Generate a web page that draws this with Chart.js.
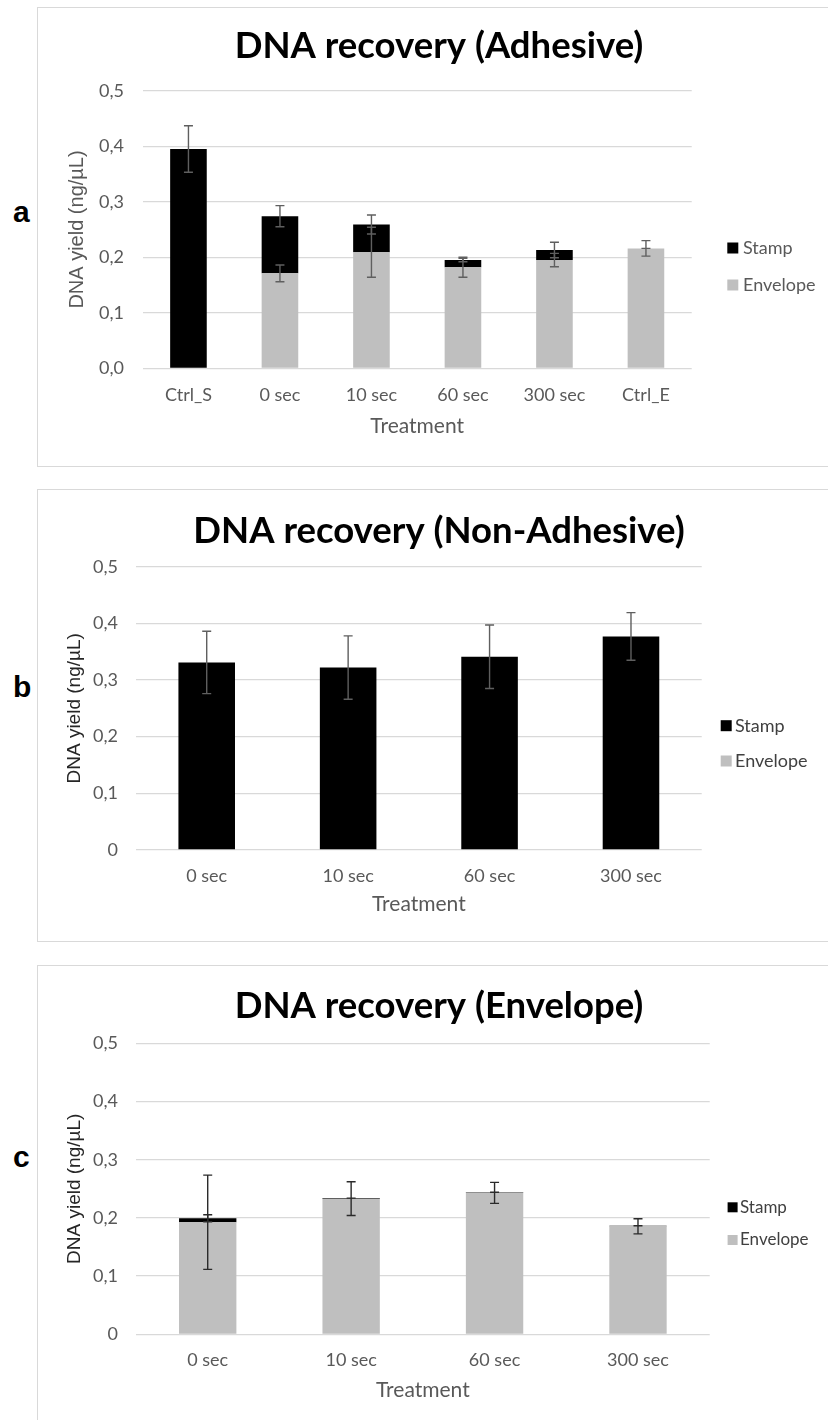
<!DOCTYPE html>
<html>
<head>
<meta charset="utf-8">
<title>DNA recovery</title>
<script src="https://cdn.jsdelivr.net/npm/chart.js@4.4.1/dist/chart.umd.min.js"></script>
<style>
  html, body { margin: 0; padding: 0; background: #ffffff; }
  body { width: 828px; height: 1420px; position: relative; overflow: hidden; }
  .frame { position: absolute; left: 36.5px; width: 900px; border: 1.5px solid #d9d9d9; box-sizing: border-box; }
  canvas { position: absolute; left: 38px; }
  .tag { position: absolute; left: 13px; font: bold 30px "Liberation Sans", Arial, sans-serif; line-height: 30px; color: #000; }
</style>
</head>
<body>
<div class="frame" style="top:7.3px;height:459.4px"></div>
<div class="frame" style="top:489.3px;height:452.4px"></div>
<div class="frame" style="top:965px;height:600px"></div>

<div class="tag" style="top:197px">a</div>
<div class="tag" style="top:672px">b</div>
<div class="tag" style="top:1142px">c</div>

<canvas id="chartA" width="802" height="458" style="top:8px"></canvas>
<canvas id="chartB" width="802" height="451" style="top:490px"></canvas>
<canvas id="chartC" width="802" height="454" style="top:966px"></canvas>

<script>
// ---- Data (ng/µL) ----
const seriesNames = ['Stamp', 'Envelope'];

// (a) adhesive stamps
const adhesiveCategories  = ['Ctrl_S', '0 sec', '10 sec', '60 sec', '300 sec', 'Ctrl_E'];
const adhesiveStamp       = [0.395, 0.103, 0.050, 0.013, 0.018, 0];
const adhesiveStampErr    = [0.042, 0.019, 0.017, 0.003, 0.014, 0];
const adhesiveEnvelope    = [0, 0.171, 0.209, 0.182, 0.195, 0.216];
const adhesiveEnvelopeErr = [null, 0.015, 0.045, 0.018, 0.012, 0.014];

// (b) non-adhesive stamps
const timeCategories         = ['0 sec', '10 sec', '60 sec', '300 sec'];
const nonAdhesiveStamp       = [0.331, 0.322, 0.341, 0.377];
const nonAdhesiveStampErr    = [0.055, 0.056, 0.056, 0.042];
const nonAdhesiveEnvelope    = [0, 0, 0, 0];
const nonAdhesiveEnvelopeErr = [null, null, null, null];

// (c) envelope
const envelopeStamp       = [0.007, 0.001, 0.001, 0.001];
const envelopeStampErr    = [0.006, 0, 0, 0];
const envelopeEnvelope    = [0.1925, 0.233, 0.243, 0.1855];
const envelopeEnvelopeErr = [0.081, 0.029, 0.018, 0.013];

// y tick labels (decimal comma)
const tickLabelsDecimal = ['0,0', '0,1', '0,2', '0,3', '0,4', '0,5'];
const tickLabelsPlain   = ['0', '0,1', '0,2', '0,3', '0,4', '0,5'];

const stampColor = '#000000';
const envelopeColor = '#bfbfbf';

// Symmetric error bars centred on the top of each stacked segment
const errorBars = {
  id: 'errorBars',
  afterDatasetsDraw(chart, args, o) {
    const ctx = chart.ctx;
    const y = chart.scales.y;
    const unit = Math.abs(y.getPixelForValue(0) - y.getPixelForValue(1));
    ctx.save();
    ctx.strokeStyle = o.color;
    ctx.lineWidth = o.width;
    chart.data.datasets.forEach((ds, i) => {
      const meta = chart.getDatasetMeta(i);
      (ds.errors || []).forEach((e, j) => {
        if (e === null || e === undefined) return;
        const bar = meta.data[j];
        const h = e * unit, cx = bar.x, cy = bar.y;
        ctx.beginPath();
        ctx.moveTo(cx, cy - h); ctx.lineTo(cx, cy + h);
        ctx.moveTo(cx - o.cap, cy - h); ctx.lineTo(cx + o.cap, cy - h);
        ctx.moveTo(cx - o.cap, cy + h); ctx.lineTo(cx + o.cap, cy + h);
        ctx.stroke();
      });
    });
    ctx.restore();
  }
};

// Legend at the right, listing the top segment first
const sideLegend = {
  id: 'sideLegend',
  afterDraw(chart, args, o) {
    const ctx = chart.ctx;
    const items = chart.data.datasets.slice().reverse();
    ctx.save();
    ctx.font = o.font;
    ctx.textAlign = 'left';
    ctx.textBaseline = 'middle';
    items.forEach((ds, k) => {
      const cy = o.ys[k];
      ctx.fillStyle = ds.backgroundColor;
      ctx.fillRect(o.boxX, cy - o.box / 2, o.box, o.box);
      ctx.fillStyle = o.color;
      ctx.fillText(ds.label, o.textX, cy);
    });
    ctx.restore();
  }
};

function buildChart(id, p) {
  return new Chart(document.getElementById(id), {
    type: 'bar',
    data: {
      labels: p.labels,
      datasets: [
        { label: seriesNames[1], data: p.envelope, errors: p.envelopeErr, backgroundColor: envelopeColor },
        { label: seriesNames[0], data: p.stamp, errors: p.stampErr, backgroundColor: stampColor }
      ]
    },
    options: {
      responsive: false,
      animation: false,
      devicePixelRatio: 1,
      layout: { padding: 0 },
      datasets: { bar: { barPercentage: 0.4, categoryPercentage: 1.0, borderWidth: 0 } },
      scales: {
        x: {
          stacked: true,
          grid: { display: false },
          border: { display: false },
          ticks: { color: '#595959', font: { family: 'Lato', size: 18 }, padding: p.xTickPad, maxRotation: 0, autoSkip: false },
          title: { display: true, text: 'Treatment', color: '#595959', font: { family: 'Lato', size: 21 }, padding: { top: 0, bottom: p.xTitlePad } },
          afterFit(s) { s.height = p.xHeight; }
        },
        y: {
          stacked: true,
          min: 0,
          max: 0.5,
          ticks: { stepSize: 0.1, callback: (v, i) => p.ticks[i], color: '#595959', font: { family: 'Lato', size: 18 }, padding: p.yTickPad },
          grid: { color: '#d9d9d9', lineWidth: 1.3, drawTicks: false },
          border: { display: false },
          title: { display: true, text: 'DNA yield (ng/µL)', color: p.yTitleColor, font: { family: 'Liberation Sans', size: p.yTitleSize }, padding: { top: p.yTitlePad, bottom: 0 } },
          afterFit(s) { s.width = p.yWidth; }
        },
        side: {
          type: 'linear',
          position: 'right',
          display: true,
          grid: { display: false },
          border: { display: false },
          ticks: { display: false },
          afterFit(s) { s.width = p.rightPad; }
        }
      },
      plugins: {
        legend: { display: false },
        tooltip: { enabled: false },
        title: {
          display: true,
          text: p.title,
          color: '#000000',
          font: { family: 'Lato', size: 36.5, weight: 'bold', lineHeight: 1.2 },
          padding: { top: p.titleTop, bottom: p.titleBottom }
        },
        errorBars: { color: p.errColor, width: 1.4, cap: 4.5 },
        sideLegend: p.legend
      }
    },
    plugins: [errorBars, sideLegend]
  });
}

buildChart('chartA', {
  title: 'DNA recovery (Adhesive)',
  labels: adhesiveCategories,
  stamp: adhesiveStamp, stampErr: adhesiveStampErr,
  envelope: adhesiveEnvelope, envelopeErr: adhesiveEnvelopeErr,
  ticks: tickLabelsDecimal,
  rightPad: 148.3, yWidth: 104.7, xHeight: 97.7,
  xTickPad: 8.5, xTitlePad: 27.4, yTickPad: 18.7,
  yTitlePad: 27, yTitleSize: 20, yTitleColor: '#595959',
  titleTop: 16.8, titleBottom: 22.1,
  errColor: '#5f5f5f',
  legend: { boxX: 689.3, box: 11, textX: 705, ys: [240, 277], font: '18px Lato', color: '#595959' }
});

buildChart('chartB', {
  title: 'DNA recovery (Non-Adhesive)',
  labels: timeCategories,
  stamp: nonAdhesiveStamp, stampErr: nonAdhesiveStampErr,
  envelope: nonAdhesiveEnvelope, envelopeErr: nonAdhesiveEnvelopeErr,
  ticks: tickLabelsPlain,
  rightPad: 138.3, yWidth: 98, xHeight: 91,
  xTickPad: 7.4, xTitlePad: 24.4, yTickPad: 18,
  yTitlePad: 25.6, yTitleSize: 19, yTitleColor: '#262626',
  titleTop: 19.8, titleBottom: 13.1,
  errColor: '#5f5f5f',
  legend: { boxX: 682.7, box: 11, textX: 697, ys: [235.7, 271], font: '18px Lato', color: '#404040' }
});

buildChart('chartC', {
  title: 'DNA recovery (Envelope)',
  labels: timeCategories,
  stamp: envelopeStamp, stampErr: envelopeStampErr,
  envelope: envelopeEnvelope, envelopeErr: envelopeEnvelopeErr,
  ticks: tickLabelsPlain,
  rightPad: 130.3, yWidth: 98, xHeight: 85.7,
  xTickPad: 7.2, xTitlePad: 17.4, yTickPad: 18,
  yTitlePad: 25.6, yTitleSize: 19, yTitleColor: '#262626',
  titleTop: 18.8, titleBottom: 14.7,
  errColor: '#2a2a2a',
  legend: { boxX: 689.6, box: 10, textX: 702, ys: [241.3, 274], font: '17px Lato', color: '#404040' }
});
</script>
</body>
</html>
